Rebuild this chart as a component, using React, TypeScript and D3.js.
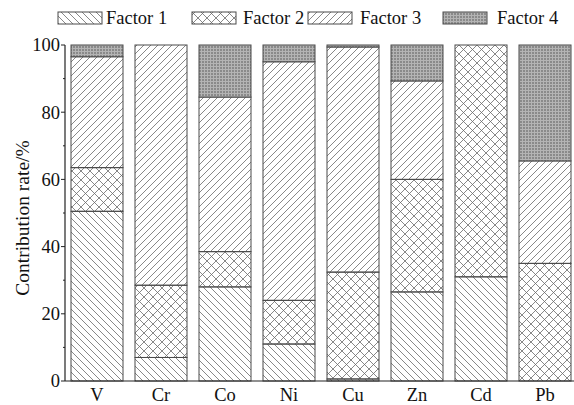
import React from "react";
import * as d3 from "d3";

const categories = ["V", "Cr", "Co", "Ni", "Cu", "Zn", "Cd", "Pb"];
const factorNames = ["Factor 1", "Factor 2", "Factor 3", "Factor 4"];
const factor1 = [50.5, 7, 28, 11, 0.6, 26.5, 31, 0];
const factor2 = [13, 21.5, 10.5, 13, 31.8, 33.5, 69, 35];
const factor3 = [33, 71.5, 46, 71, 67, 29.3, 0, 30.5];
const factor4 = [3.5, 0, 15.5, 5, 0.6, 10.7, 0, 34.5];
const yTicks = [0, 20, 40, 60, 80, 100];
const yMinorTicks = [10, 30, 50, 70, 90];

const W = 574;
const H = 405;
const font = "'Liberation Serif', 'Times New Roman', serif";

const App: React.FC = () => {
  const margin = { top: 45, left: 65, bottom: 381 };

  const x = d3
    .scaleBand<string>()
    .domain(categories)
    .range([margin.left, margin.left + 512])
    .paddingInner(0.1875)
    .paddingOuter(0.09375);

  const y = d3.scaleLinear().domain([0, 100]).range([margin.bottom, margin.top]);

  // table for the stack
  const rows = categories.map((c, i) => ({
    cat: c,
    f1: factor1[i],
    f2: factor2[i],
    f3: factor3[i],
    f4: factor4[i],
  }));
  const keys = ["f1", "f2", "f3", "f4"];
  const series = d3.stack<any>().keys(keys)(rows);
  const fills = ["url(#p1)", "url(#p2)", "url(#p3)", "url(#p4)"];

  // legend slots (box x, text x)
  const legendPos = [
    [58, 106],
    [192, 243],
    [308, 360],
    [443, 497],
  ];

  return (
    <svg
      width={W}
      height={H}
      style={{ position: "absolute", left: 0, top: 0, background: "white" }}
    >
      <defs>
        <pattern id="p1" patternUnits="userSpaceOnUse" width={7} height={7}>
          <path
            d="M0,0 L7,7 M-1,6 L1,8 M6,-1 L8,1"
            stroke="#6a6a6a"
            strokeWidth={0.8}
          />
        </pattern>
        <pattern id="p3" patternUnits="userSpaceOnUse" width={7} height={7}>
          <path
            d="M0,7 L7,0 M-1,1 L1,-1 M6,8 L8,6"
            stroke="#6a6a6a"
            strokeWidth={0.8}
          />
        </pattern>
        <pattern id="p2" patternUnits="userSpaceOnUse" width={9} height={9}>
          <path
            d="M0,0 L9,9 M-1,8 L1,10 M8,-1 L10,1 M0,9 L9,0 M-1,1 L1,-1 M8,10 L10,8"
            stroke="#6a6a6a"
            strokeWidth={0.8}
          />
        </pattern>
        <pattern id="p4" patternUnits="userSpaceOnUse" width={3} height={3}>
          <rect width={3} height={3} fill="#8a8a8a" />
          <rect width={3} height={1} fill="#b4b4b4" />
          <rect width={1} height={3} fill="#b4b4b4" />
        </pattern>
      </defs>

      {/* bars */}
      {series.map((s, si) => (
        <g key={s.key}>
          {s.map((d: any) => {
            const h = y(d[0]) - y(d[1]);
            if (h <= 0) return null;
            return (
              <rect
                key={d.data.cat}
                x={x(d.data.cat)}
                y={y(d[1])}
                width={x.bandwidth()}
                height={h}
                fill={fills[si]}
                stroke="#4a4a4a"
                strokeWidth={1}
              />
            );
          })}
        </g>
      ))}

      {/* y axis */}
      <line
        x1={margin.left}
        x2={margin.left}
        y1={y(100)}
        y2={y(0)}
        stroke="#222"
        strokeWidth={1.2}
      />
      {yTicks.map((t) => (
        <g key={t}>
          <line
            x1={margin.left - 4}
            x2={margin.left}
            y1={y(t)}
            y2={y(t)}
            stroke="#222"
          />
          <text
            x={margin.left - 5}
            y={y(t)}
            dy="0.35em"
            textAnchor="end"
            fontFamily={font}
            fontSize={18.5}
            fill="#111"
          >
            {t}
          </text>
        </g>
      ))}
      {yMinorTicks.map((t) => (
        <line
          key={t}
          x1={margin.left - 2}
          x2={margin.left}
          y1={y(t)}
          y2={y(t)}
          stroke="#222"
        />
      ))}

      {/* x axis */}
      <line
        x1={margin.left}
        x2={W}
        y1={y(0)}
        y2={y(0)}
        stroke="#222"
        strokeWidth={1.2}
      />
      {categories.map((c) => (
        <text
          key={c}
          x={(x(c) ?? 0) + x.bandwidth() / 2}
          y={y(0) + 20}
          textAnchor="middle"
          fontFamily={font}
          fontSize={18.5}
          fill="#111"
        >
          {c}
        </text>
      ))}

      <text
        transform={`translate(29, 218) rotate(-90)`}
        textAnchor="middle"
        fontFamily={font}
        fontSize={19.5}
        fill="#111"
      >
        Contribution rate/%
      </text>

      {/* legend */}
      {factorNames.map((n, i) => (
        <g key={n}>
          <rect
            x={legendPos[i][0]}
            y={12}
            width={44}
            height={12}
            fill={fills[i]}
            stroke="#4a4a4a"
          />
          <text
            x={legendPos[i][1]}
            y={18}
            dy="0.35em"
            fontFamily={font}
            fontSize={18.5}
            fill="#111"
          >
            {n}
          </text>
        </g>
      ))}
    </svg>
  );
};

export default App;
